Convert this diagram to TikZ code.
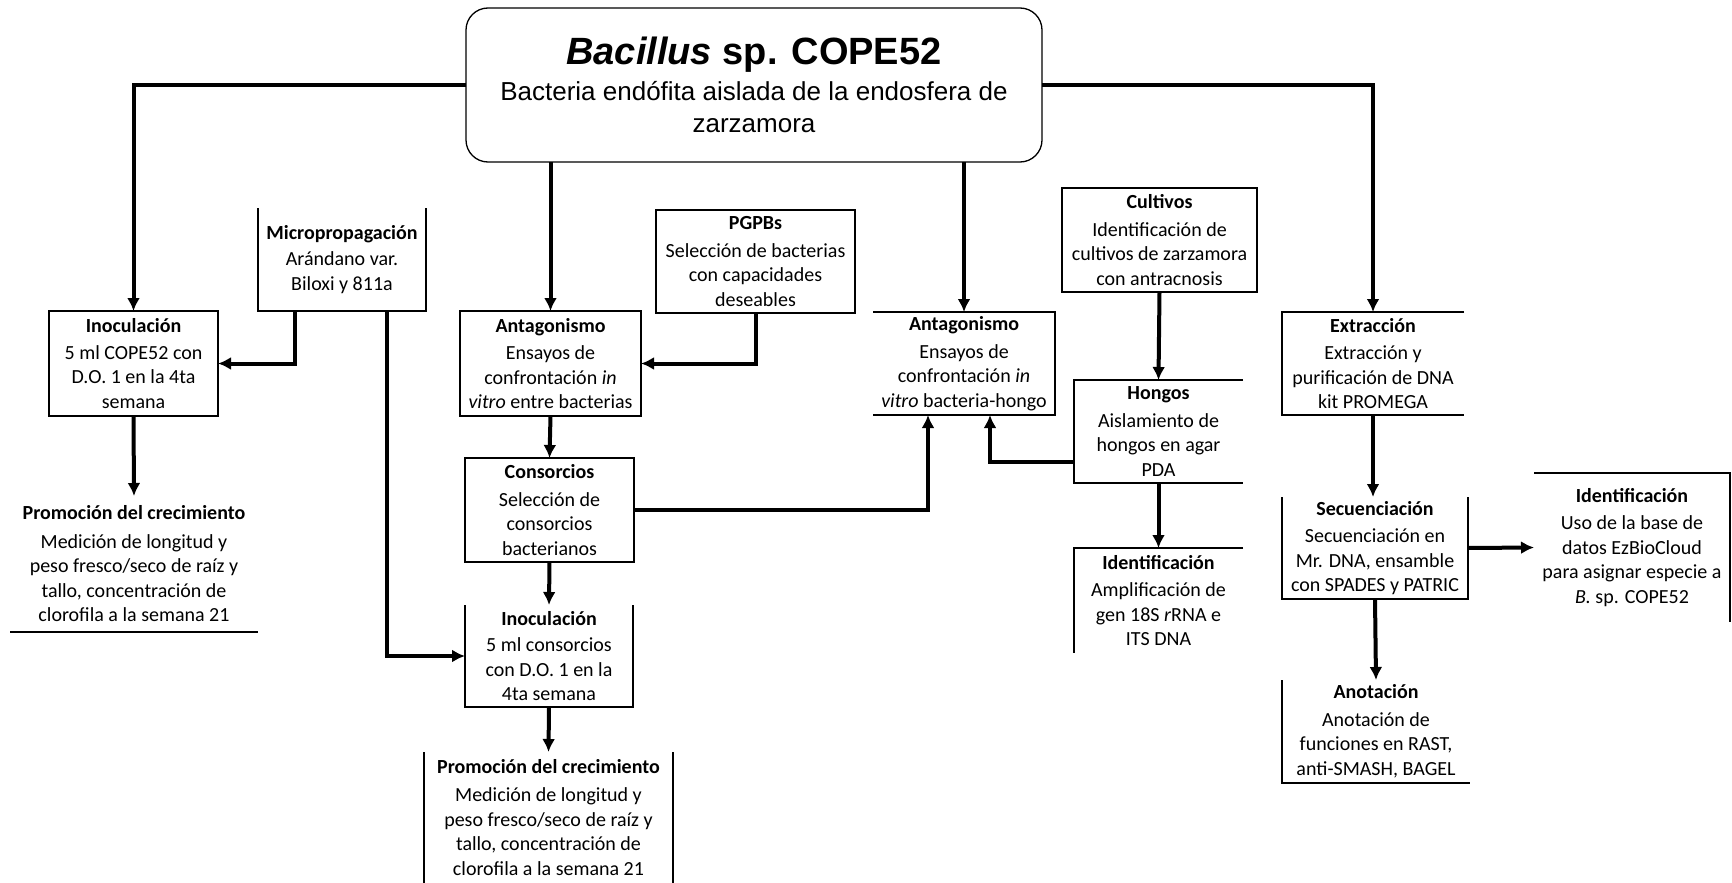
\documentclass[tikz,border=0pt]{standalone}
\usepackage{fontspec}
\setmainfont{Carlito}
\newfontfamily\arialf{Liberation Sans}
\usetikzlibrary{arrows.meta,calc}
\begin{document}
\begin{tikzpicture}[x=1pt,y=-1pt,
  bx/.style={inner sep=0pt,outer sep=0pt,align=center,font=\fontsize{20}{24.5}\selectfont},
  fbx/.style={bx,draw,line width=1.3pt},
  frame/.style={line width=1.3pt},
  conn/.style={line width=4pt,-{Latex[length=13pt,width=13pt]}}]
\useasboundingbox (0,0) rectangle (1732,883);
\fill[white] (0,0) rectangle (1732,883);

% main box
\node[draw,rounded corners=22pt,line width=1.3pt,inner sep=0pt,outer sep=0pt,
  minimum width=576pt,minimum height=154pt,align=center,
  font=\arialf\fontsize{26}{32}\selectfont] (top) at (754,85)
  {{\fontsize{38}{40}\selectfont\bfseries\itshape Bacillus\upshape{} sp. COPE52}\\[4pt]
   Bacteria endófita aislada de la endosfera de\\zarzamora};

% boxes
\node[fbx,minimum width=169pt,minimum height=105pt] (inoc1) at (133.5,363.5)
  {\textbf{Inoculación}\\[2pt]5 ml COPE52 con\\D.O. 1 en la 4ta\\semana};
\node[bx,minimum width=168pt,minimum height=103pt] (micro) at (342,259.5)
  {\textbf{Micropropagación}\\[2pt]Arándano var.\\Biloxi y 811a};
\node[bx,minimum width=248pt,minimum height=136pt] (prom1) at (134,564)
  {\textbf{Promoción del crecimiento}\\[4pt]Medición de longitud y\\peso fresco/seco de raíz y\\tallo, concentración de\\clorofila a la semana 21};
\node[fbx,minimum width=181pt,minimum height=105pt] (antag1) at (550.5,363.5)
  {\textbf{Antagonismo}\\[3pt]Ensayos de\\confrontación \textit{in}\\\textit{vitro} entre bacterias};
\node[fbx,minimum width=199pt,minimum height=103pt] (pgpb) at (755.5,261.5)
  {\textbf{PGPBs}\\[3pt]Selección de bacterias\\con capacidades\\deseables};
\node[fbx,minimum width=169pt,minimum height=104pt] (cons) at (549.5,510)
  {\textbf{Consorcios}\\[3pt]Selección de\\consorcios\\bacterianos};
\node[bx,minimum width=168pt,minimum height=102pt] (inoc2) at (549,656)
  {\textbf{Inoculación}\\[2pt]5 ml consorcios\\con D.O. 1 en la\\4ta semana};
\node[bx,minimum width=249pt,minimum height=131pt] (prom2) at (548.5,817.5)
  {\textbf{Promoción del crecimiento}\\[4pt]Medición de longitud y\\peso fresco/seco de raíz y\\tallo, concentración de\\clorofila a la semana 21};
\node[bx,minimum width=182pt,minimum height=103pt] (antag2) at (964,363.5)
  {\textbf{Antagonismo}\\[3pt]Ensayos de\\confrontación \textit{in}\\\textit{vitro} bacteria-hongo};
\node[fbx,minimum width=195pt,minimum height=104pt] (cult) at (1159.5,240)
  {\textbf{Cultivos}\\[3pt]Identificación de\\cultivos de zarzamora\\con antracnosis};
\node[bx,minimum width=169pt,minimum height=103pt] (hongos) at (1158.5,431.5)
  {\textbf{Hongos}\\[3pt]Aislamiento de\\hongos en agar\\PDA};
\node[bx,minimum width=169pt,minimum height=105pt] (ident1) at (1158.5,600.5)
  {\textbf{Identificación}\\[3pt]Amplificación de\\gen 18S \textit{r}RNA e\\ITS DNA};
\node[bx,minimum width=182pt,minimum height=103pt] (extr) at (1373,363.5)
  {\textbf{Extracción}\\[3pt]Extracción y\\purificación de DNA\\kit PROMEGA};
\node[bx,minimum width=186pt,minimum height=102pt] (secu) at (1375,548)
  {\textbf{Secuenciación}\\[3pt]Secuenciación en\\Mr. DNA, ensamble\\con SPADES y PATRIC};
\node[bx,minimum width=196pt,minimum height=149pt] (ident2) at (1632,547.5)
  {\textbf{Identificación}\\[3pt]Uso de la base de\\datos EzBioCloud\\para asignar especie a\\\textit{B.} sp. COPE52};
\node[bx,minimum width=188pt,minimum height=103pt] (anot) at (1376,731.5)
  {\textbf{Anotación}\\[3pt]Anotación de\\funciones en RAST,\\anti-SMASH, BAGEL};

% partial frames
\draw[frame] (micro.north west) -- (micro.south west) -- (micro.south east) -- (micro.north east);
\draw[frame] (prom1.south west) -- (prom1.south east);
\draw[frame] (inoc2.north west) -- (inoc2.south west) -- (inoc2.south east) -- (inoc2.north east);
\draw[frame] (prom2.north west) -- (prom2.south west);
\draw[frame] (prom2.north east) -- (prom2.south east);
\draw[frame] (antag2.north west) -- (antag2.north east) -- (antag2.south east) -- (antag2.south west);
\draw[frame] (hongos.north east) -- (hongos.north west) -- (hongos.south west) -- (hongos.south east);
\draw[frame] (ident1.north east) -- (ident1.north west) -- (ident1.south west);
\draw[frame] (extr.north east) -- (extr.north west) -- (extr.south west) -- (extr.south east);
\draw[frame] (secu.north west) -- (secu.south west) -- (secu.south east) -- (secu.north east);
\draw[frame] (ident2.north west) -- (ident2.north east) -- (ident2.south east);
\draw[frame] (anot.north west) -- (anot.south west) -- (anot.south east);

% connectors
\draw[conn] (top.west) -| (inoc1.north);
\draw[conn] (top.east) -| (extr.north);
\draw[conn] (top.south -| antag1.north) -- (antag1.north);
\draw[conn] (top.south -| antag2.north) -- (antag2.north);
\draw[conn] ($(micro.south west)+(37,0)$) |- (inoc1.east);
\draw[conn] ($(micro.south west)+(129,0)$) |- (inoc2.west);
\draw[conn] (inoc1.south) -- (prom1.north);
\draw[conn] (pgpb.south) |- (antag1.east);
\draw[conn] (antag1.south) -- (cons.north);
\draw[conn] (cons.east) -| ($(antag2.south west)+(55,0)$);
\draw[conn] (cons.south) -- (inoc2.north);
\draw[conn] (inoc2.south) -- (prom2.north);
\draw[conn] (cult.south) -- (hongos.north);
\draw[conn] ($(hongos.south west)+(0,-21)$) -| ($(antag2.south west)+(117,0)$);
\draw[conn] (hongos.south) -- (ident1.north);
\draw[conn] (extr.south) -- (extr.south |- secu.north);
\draw[conn] (secu.east) -- (ident2.west);
\draw[conn] (secu.south) -- (anot.north);
\end{tikzpicture}
\end{document}
